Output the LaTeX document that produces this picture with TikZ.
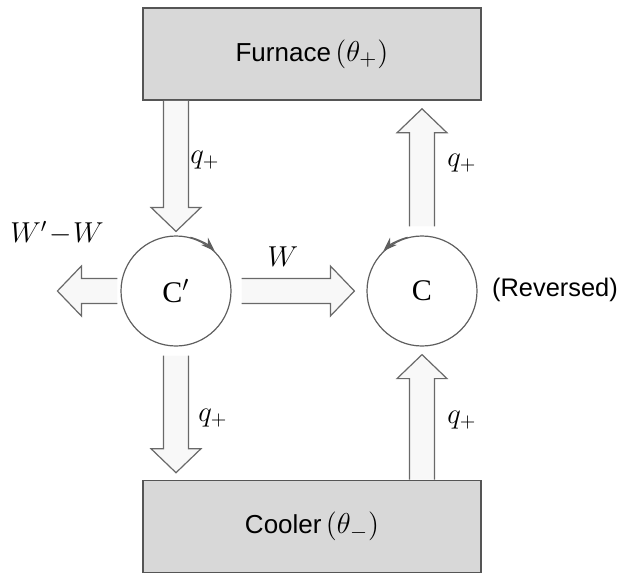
\documentclass[tikz,border=0pt]{standalone}
\usepackage[no-math]{fontspec}
\setmainfont{Liberation Sans}
\newfontfamily\serifC{Liberation Serif}
\usepackage{tikz}
\usetikzlibrary{arrows.meta, calc, positioning}
\definecolor{BoxFill}{RGB}{216,216,216}
\definecolor{BoxLine}{RGB}{85,85,85}
\definecolor{ArrowLine}{RGB}{105,105,105}
\definecolor{ArrowFill}{RGB}{248,248,248}
\definecolor{CircLine}{RGB}{95,95,95}
\newcommand{\tempsz}[1]{{\fontsize{15.5}{18}\selectfont$(#1)$}}

\begin{document}
\begin{tikzpicture}[x=0.5pt, y=-0.5pt,
	box/.style={rectangle, draw=BoxLine, line width=0.8pt, fill=BoxFill, minimum width=169pt, minimum height=46pt, inner sep=0pt, font=\fontsize{13}{15}\selectfont},
	cyc/.style={circle, draw=CircLine, line width=0.6pt, minimum size=55pt, inner sep=0pt, font=\serifC\fontsize{15}{18}\selectfont},
	lab/.style={inner sep=1pt, font=\fontsize{14.5}{17}\selectfont},
	txt/.style={inner sep=1pt, font=\fontsize{12.7}{15}\selectfont},
	turn/.style={CircLine, line width=0.6pt, -{Stealth[length=7pt, width=5pt]}},
	hollow/.style={draw=ArrowLine, fill=ArrowFill, line width=0.6pt, line join=miter,
		to path={let \p1=($(\tikztotarget)-(\tikztostart)$), \n1={atan2(\y1,\x1)} in
			($(\tikztostart)+(\n1+90:6.25pt)$)
			-- ($(\tikztotarget)+(\n1+180:12pt)+(\n1+90:6.25pt)$)
			-- ($(\tikztotarget)+(\n1+180:12pt)+(\n1+90:12.5pt)$)
			-- (\tikztotarget)
			-- ($(\tikztotarget)+(\n1+180:12pt)+(\n1-90:12.5pt)$)
			-- ($(\tikztotarget)+(\n1+180:12pt)+(\n1-90:6.25pt)$)
			-- ($(\tikztostart)+(\n1-90:6.25pt)$)}}]

	\useasboundingbox (0,0) rectangle (622,575);

	% --- reservoirs ---
	\node[box] (fur) at (312,54) {Furnace\,\tempsz{\theta_{+}}};
	\node[box] (cool) at (312,526.5) {Cooler\,\tempsz{\theta_{-}}};

	% --- engines ---
	\node[cyc] (cp) at (176,291) {C$'$};
	\node[cyc] (c) at (422,291) {C};
	\draw[turn] (cp.75) arc[start angle=75, end angle=46, radius=27.8pt];
	\draw[turn] (c.105) arc[start angle=105, end angle=134, radius=27.8pt];
	\node[txt] (rev) at (555,290) {(Reversed)};

	% --- heat and work flows ---
	\coordinate (a1) at (fur.south -| cp);
	\coordinate (a2) at ($(cp.north)+(0,-4)$);
	\coordinate (b1) at ($(cp.south)+(0,9)$);
	\coordinate (b2) at ($(cool.north -| cp)+(0,-7)$);
	\coordinate (d1) at ($(c.north)+(0,-9)$);
	\coordinate (d2) at ($(fur.south -| c)+(0,8)$);
	\coordinate (e1) at (cool.north -| c);
	\coordinate (e2) at ($(c.south)+(0,8)$);
	\coordinate (w1) at ($(cp.east)+(10,0)$);
	\coordinate (w2) at ($(c.west)+(-12,0)$);
	\coordinate (l1) at ($(cp.west)+(-3,0)$);
	\coordinate (l2) at ($(cp.west)+(-63,0)$);
	\draw[hollow] (a1) to (a2);
	\draw[hollow] (b1) to (b2);
	\draw[hollow] (d1) to (d2);
	\draw[hollow] (e1) to (e2);
	\draw[hollow] (w1) to (w2);
	\draw[hollow] (l1) to (l2);

	% --- labels ---
	\node[lab] (q1) at (205,160) {$q_{+}$};
	\node[lab] (q2) at (462,163) {$q_{+}$};
	\node[lab] (q3) at (213,418) {$q_{+}$};
	\node[lab] (q4) at (462,420) {$q_{+}$};
	\node[lab] (wd) at (57,233) {$W'\!-\!W$};
	\node[lab] (w) at (283,257) {$W$};
\end{tikzpicture}
\end{document}
